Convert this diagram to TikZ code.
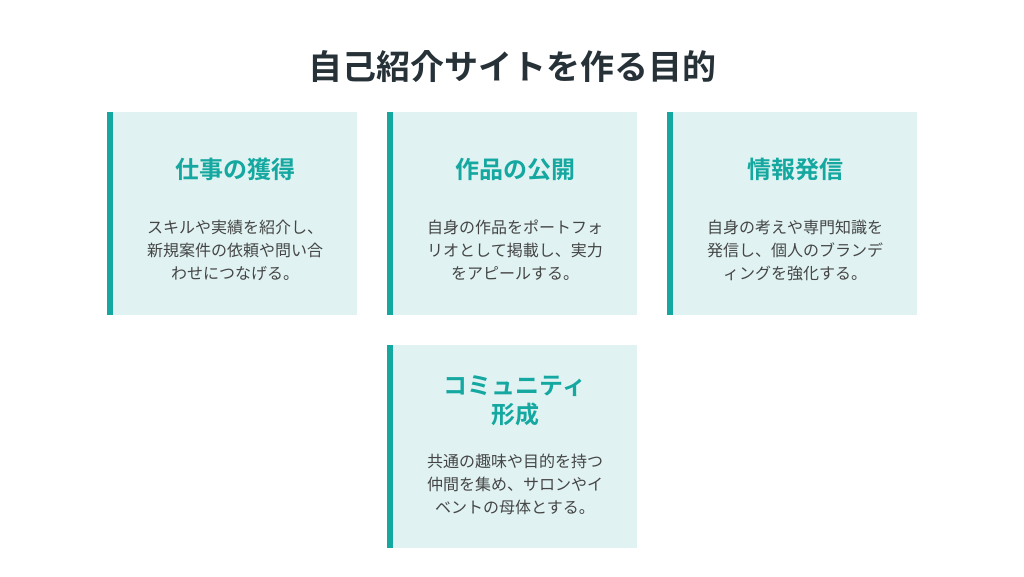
\documentclass[tikz,border=0pt]{standalone}
\usepackage{fontspec}
\newfontfamily\jpreg{Noto Sans CJK JP}
\newfontfamily\jpbold{Noto Sans CJK JP Bold}
\definecolor{teal1}{HTML}{14A8A0}
\definecolor{cardbg}{HTML}{E0F3F2}
\definecolor{titlec}{HTML}{263238}
\definecolor{bodyc}{HTML}{454545}
\tikzset{
  card/.style={fill=cardbg, draw=none},
  bar/.style={fill=teal1, draw=none},
  ctitle/.style={text=teal1, font=\jpbold\fontsize{24}{29}\selectfont, align=center, inner sep=0pt},
  cbody/.style={text=bodyc, font=\jpreg\fontsize{16}{23}\selectfont, align=center, inner sep=0pt},
}
\begin{document}
\begin{tikzpicture}[x=1pt,y=-1pt]
\useasboundingbox[fill=white] (0,0) rectangle (1024,576);
\node[text=titlec, font=\jpbold\fontsize{34}{40}\selectfont, inner sep=0pt] (title) at (512,67) {自己紹介サイトを作る目的};
% card 1
\fill[card] (107,112) rectangle (357,315);
\fill[bar] (107,112) rectangle (113,315);
\node[ctitle] (t1) at (235,169) {仕事の獲得};
\node[cbody] (b1) at (235,250) {スキルや実績を紹介し、\\新規案件の依頼や問い合\\わせにつなげる。};
% card 2
\fill[card] (387,112) rectangle (637,315);
\fill[bar] (387,112) rectangle (393,315);
\node[ctitle] (t2) at (515,169) {作品の公開};
\node[cbody] (b2) at (515,250) {自身の作品をポートフォ\\リオとして掲載し、実力\\をアピールする。};
% card 3
\fill[card] (667,112) rectangle (917,315);
\fill[bar] (667,112) rectangle (673,315);
\node[ctitle] (t3) at (795,169) {情報発信};
\node[cbody] (b3) at (795,250) {自身の考えや専門知識を\\発信し、個人のブランデ\\ィングを強化する。};
% card 4
\fill[card] (387,345) rectangle (637,548);
\fill[bar] (387,345) rectangle (393,548);
\node[ctitle] (t4) at (515,400.5) {コミュニティ\\形成};
\node[cbody] (b4) at (515,484) {共通の趣味や目的を持つ\\仲間を集め、サロンやイ\\ベントの母体とする。};
\end{tikzpicture}
\end{document}
